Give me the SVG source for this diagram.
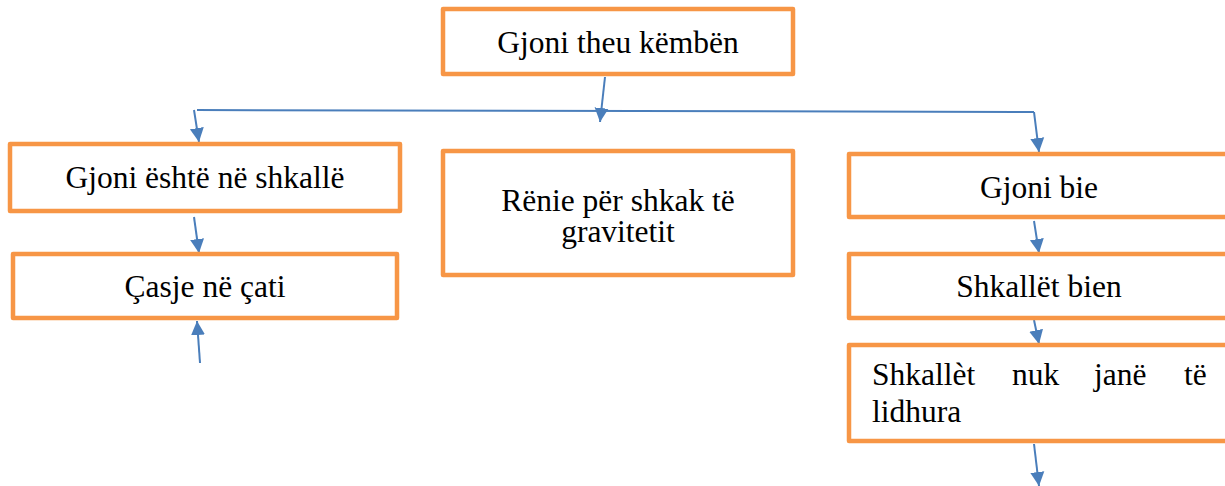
<svg xmlns="http://www.w3.org/2000/svg" width="1225" height="486" viewBox="0 0 1225 486">
<style>
.box{fill:#fff;stroke:#F79646;stroke-width:4.5;stroke-linejoin:round}
text{font-family:'Liberation Serif','Times New Roman',serif;font-size:31.5px;fill:#000}
.c{text-anchor:middle}
.ln{stroke:#4A7EBB;stroke-width:2;fill:none}
.ar{stroke:#4A7EBB;stroke-width:2;fill:none;marker-end:url(#ah)}
</style>
<defs>
<marker id="ah" markerUnits="userSpaceOnUse" markerWidth="15" markerHeight="15" refX="14" refY="7" orient="auto" viewBox="0 0 15 14">
<path d="M0,0 L14,7 L0,14 z" fill="#4A7EBB"/>
</marker>
</defs>
<rect x="0" y="0" width="1225" height="486" fill="#fff"/>
<g id="connectors">
<line class="ln" x1="197" y1="110" x2="1034" y2="112"/>
<line class="ar" x1="605" y1="77" x2="600" y2="122"/>
<line class="ar" x1="194" y1="110" x2="199" y2="142"/>
<line class="ar" x1="1034" y1="112" x2="1039" y2="152"/>
<line class="ar" x1="194" y1="217" x2="199" y2="253"/>
<line class="ar" x1="200" y1="363" x2="197" y2="321"/>
<line class="ar" x1="1034" y1="221" x2="1039" y2="253"/>
<line class="ar" x1="1034" y1="320" x2="1039" y2="344"/>
<line class="ar" x1="1034" y1="444" x2="1039" y2="486"/>
</g>
<g id="n-top">
<rect class="box" x="443" y="9" width="350" height="65"/>
<text class="c" x="618" y="53">Gjoni theu këmbën</text>
</g>
<g id="n-left1">
<rect class="box" x="10" y="144" width="390" height="67"/>
<text class="c" x="205" y="188">Gjoni është në shkallë</text>
</g>
<g id="n-left2">
<rect class="box" x="13" y="254" width="384" height="64"/>
<text class="c" x="205" y="297">Çasje në çati</text>
</g>
<g id="n-mid">
<rect class="box" x="443" y="151" width="350" height="124"/>
<text class="c" x="618" y="211">Rënie për shkak të</text>
<text class="c" x="618" y="242">gravitetit</text>
</g>
<g id="n-right1">
<rect class="box" x="849" y="154" width="400" height="63"/>
<text class="c" x="1039" y="198">Gjoni bie</text>
</g>
<g id="n-right2">
<rect class="box" x="849" y="254" width="400" height="64"/>
<text class="c" x="1039" y="297">Shkallët bien</text>
</g>
<g id="n-right3">
<rect class="box" x="849" y="345" width="400" height="96"/>
<text y="385"><tspan x="872">Shkallèt</tspan><tspan x="1012">nuk</tspan><tspan x="1094">janë</tspan><tspan x="1184">të</tspan></text>
<text x="872" y="422">lidhura</text>
</g>
</svg>
